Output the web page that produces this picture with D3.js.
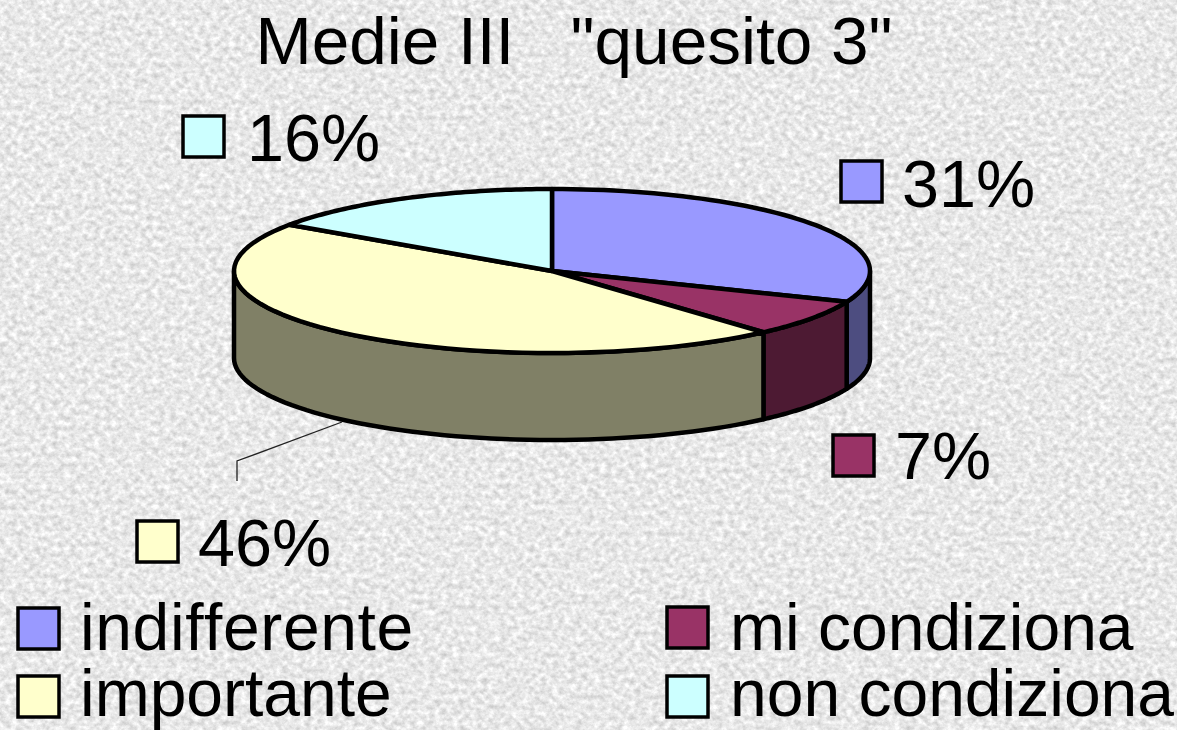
<!DOCTYPE html>
<html><head><meta charset="utf-8">
<script src="https://cdn.jsdelivr.net/npm/d3@7"></script>
<style>html,body{margin:0;padding:0;background:#e9e9e9;overflow:hidden}svg{display:block}text{font-family:"Liberation Sans",Arial,sans-serif;fill:#000;white-space:pre;font-kerning:none;font-variant-ligatures:none}</style>
</head><body>
<svg id="c" width="1177" height="730"></svg>
<script>
const chartTitle = 'Medie III   "quesito 3"';
const categories = ["indifferente","mi condiziona","importante","non condiziona"];
const values = [31.2,7.3,46.2,15.5];
const valueLabels = ["31%","7%","46%","16%"];
const topColors = ["#9999FF","#993366","#FFFFCC","#CCFFFF"];
const sideColors = ["#4D4D80","#4D1A33","#808066","#668080"];

const W=1177,H=730,cx=552,cy=271,rx=318,ry=82,depth=87;
const svg=d3.select("#c");

// textured paper background
const defs=svg.append("defs");
const f=defs.append("filter").attr("id","paper").attr("x",0).attr("y",0).attr("width","100%").attr("height","100%")
  .attr("color-interpolation-filters","sRGB");
f.append("feTurbulence").attr("type","fractalNoise").attr("baseFrequency","0.17 0.19").attr("numOctaves",4).attr("seed",7);
f.append("feColorMatrix").attr("type","matrix").attr("values","0.32 0 0 0 0.75  0.32 0 0 0 0.75  0.32 0 0 0 0.75  0 0 0 0 1");
svg.append("rect").attr("width",W).attr("height",H).attr("filter","url(#paper)");

const pie=d3.pie().sort(null).value(d=>d)(values);
const px=a=>cx+rx*Math.sin(a), py=(a,dz=0)=>cy-ry*Math.cos(a)+dz;
const line=d3.line().x(d=>d[0]).y(d=>d[1]);
const samples=(a0,a1,dz=0)=>d3.range(0,61).map(i=>{const a=a0+(a1-a0)*i/60;return [px(a),py(a,dz)]});

// rim (front half only)
const g=svg.append("g").attr("stroke","#000").attr("stroke-width",4.5).attr("stroke-linejoin","round");
pie.forEach((p,i)=>{
  const a0=Math.max(p.startAngle,Math.PI/2),a1=Math.min(p.endAngle,3*Math.PI/2);
  if(a1<=a0)return;
  g.append("path").attr("fill",sideColors[i])
   .attr("d",line([...samples(a0,a1),...samples(a1,a0,depth)])+"Z");
});
// top faces
pie.forEach((p,i)=>{
  g.append("path").attr("fill",topColors[i])
   .attr("d",line([[cx,cy],...samples(p.startAngle,p.endAngle)])+"Z");
});

// leader line
svg.append("path").attr("fill","none").attr("stroke","#222").attr("stroke-width",1.3)
  .attr("d",line([[342,422],[237,461],[237,481]]));

// title
svg.append("text").attr("x",574).attr("y",64).attr("text-anchor","middle").attr("font-size",67.5).text(chartTitle);

// data labels with swatches
const swatch=(x,y,c)=>svg.append("rect").attr("x",x).attr("y",y).attr("width",41).attr("height",41)
   .attr("fill",c).attr("stroke","#000").attr("stroke-width",3.5);
const labelPos=[[841,161,902,207],[833,435,895,479],[137,521,198,566],[183,116,247,161]];
values.forEach((v,i)=>{
  const q=labelPos[i];
  swatch(q[0],q[1],topColors[i]);
  svg.append("text").attr("x",q[2]).attr("y",q[3]).attr("font-size",66.5).text(valueLabels[i]);
});

// legend
const legendPos=[[18,608,80,650],[667,607,730,650],[18,676,80,716],[667,676,730,716]];
categories.forEach((c,i)=>{
  const q=legendPos[i];
  swatch(q[0],q[1],topColors[i]);
  svg.append("text").attr("x",q[2]).attr("y",q[3]).attr("font-size",66)
    .attr("letter-spacing",i===0?0.6:0).text(c);
});
</script>
</body></html>
